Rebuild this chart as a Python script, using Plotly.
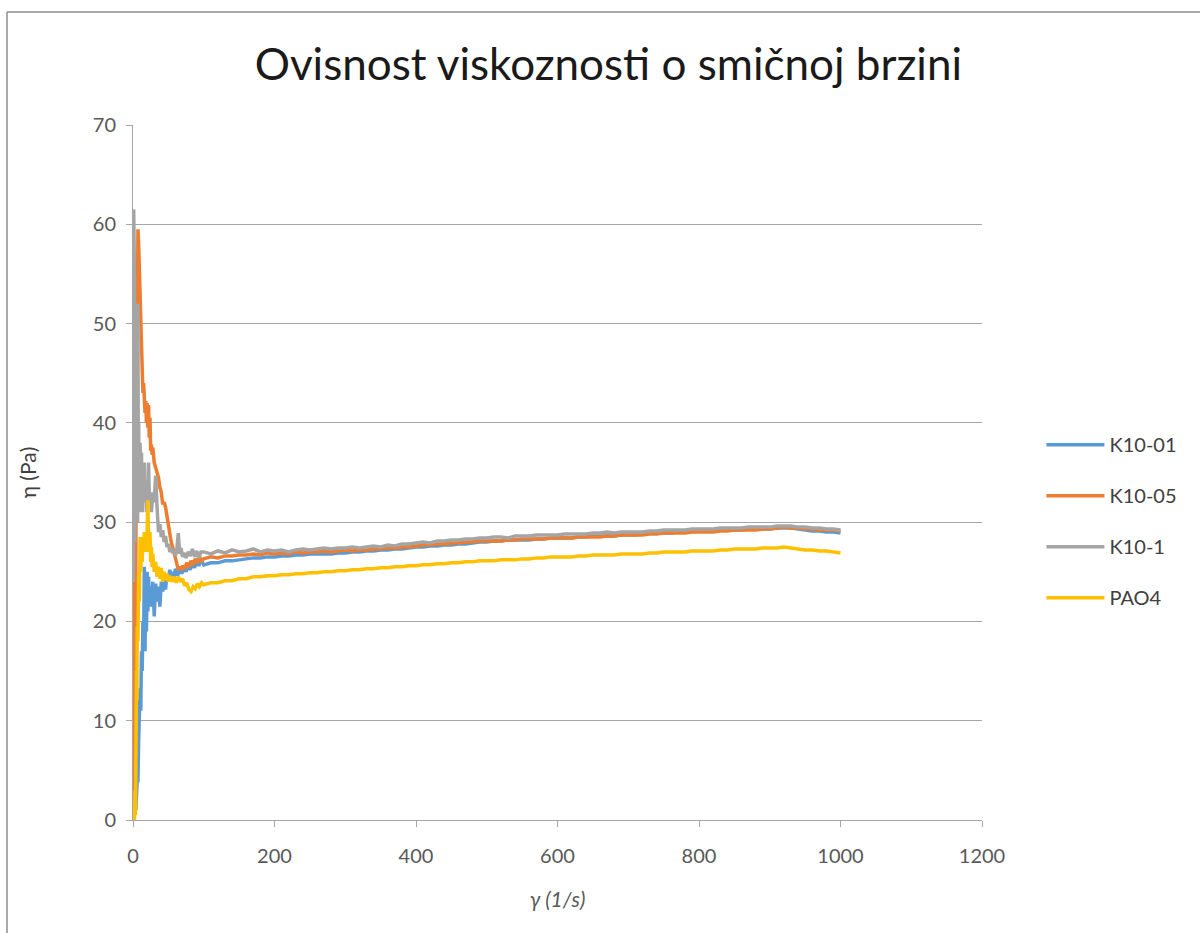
import plotly.graph_objects as go

# Shear rate axis: dense start-up samples, then a regular 10 1/s grid
tail_rate = list(range(100, 1001, 10))

# K10-01
k1_rate_start = [4, 6, 7, 8, 9, 10, 11, 12, 13, 14, 15, 16, 17, 18, 19, 20, 21, 22, 23, 24,
                 26, 28, 30, 32, 34, 36, 38, 40, 42, 44, 46, 48, 50, 52, 54, 56, 58, 60,
                 63, 66, 69, 72, 75, 78, 81, 84, 87, 90, 93, 96]
k1_eta_start = [1.0, 4.0, 3.8, 8.0, 12.0, 13.3, 11.0, 17.0, 15.0, 20.0, 18.0, 25.5, 17.0, 24.0,
                19.0, 25.0, 21.0, 24.5, 22.0, 23.5, 21.5, 24.0, 20.5, 23.8, 22.0, 23.5, 21.5,
                24.0, 23.0, 24.5, 23.2, 24.8, 24.0, 25.2, 24.3, 25.0, 24.5, 25.3, 24.6, 25.4,
                24.8, 25.6, 25.0, 25.8, 25.2, 26.0, 25.4, 26.1, 25.6, 26.2]
k1_eta_tail = [25.7, 25.9, 25.9, 26.1, 26.1, 26.2, 26.3, 26.4, 26.4, 26.5,
               26.5, 26.6, 26.6, 26.7, 26.7, 26.8, 26.8, 26.8, 26.8, 26.9,
               26.9, 27.0, 27.0, 27.1, 27.1, 27.2, 27.2, 27.3, 27.3, 27.4,
               27.5, 27.5, 27.6, 27.6, 27.7, 27.7, 27.8, 27.8, 27.9, 28.0,
               28.0, 28.1, 28.1, 28.2, 28.2, 28.2, 28.2, 28.3, 28.3, 28.4,
               28.4, 28.4, 28.4, 28.5, 28.5, 28.6, 28.6, 28.6, 28.6, 28.7,
               28.7, 28.7, 28.8, 28.9, 28.9, 28.9, 28.9, 29.0, 29.0, 29.1,
               29.1, 29.1, 29.1, 29.2, 29.2, 29.2, 29.2, 29.3, 29.3, 29.3,
               29.3, 29.4, 29.4, 29.4, 29.3, 29.2, 29.1, 29.1, 29.0, 29.0,
               28.9]

# K10-05
k5_rate_start = [0, 0.7, 1.4, 2.1, 2.8, 3.5, 4.2, 5, 6, 7, 8, 9, 10, 11, 12, 13, 14, 15, 16,
                 17, 18, 19, 20, 21, 22, 23, 24, 25, 26, 27, 28, 30, 32, 34, 36, 38, 40, 42,
                 44, 46, 48, 50, 52, 54, 56, 58, 60, 62, 64, 66, 68, 70, 73, 76, 79, 82, 85,
                 88, 91, 94, 97]
k5_eta_start = [0.0, 2.0, 24.0, 10.0, 20.0, 5.0, 30.0, 45.0, 52.0, 59.5, 58.0, 55.0, 53.0,
                49.5, 47.0, 45.0, 43.0, 44.0, 42.5, 41.0, 42.2, 40.0, 42.0, 39.5, 41.8, 38.5,
                40.5, 37.2, 37.8, 36.8, 37.5, 36.0, 35.5, 35.0, 34.5, 33.5, 33.0, 31.8, 32.0,
                31.5, 30.5, 30.0, 29.0, 28.0, 27.5, 26.8, 26.2, 25.8, 25.2, 25.5, 25.2, 25.6,
                25.3, 25.9, 25.5, 26.1, 25.7, 26.3, 25.9, 26.5, 26.1]
k5_eta_tail = [26.3, 26.5, 26.4, 26.6, 26.6, 26.7, 26.7, 26.8, 26.7, 26.9,
               26.8, 26.9, 26.8, 27.0, 26.9, 27.0, 27.0, 27.1, 27.0, 27.1,
               27.2, 27.1, 27.2, 27.2, 27.3, 27.3, 27.4, 27.4, 27.5, 27.5,
               27.6, 27.7, 27.7, 27.8, 27.8, 27.9, 27.9, 28.0, 28.0, 28.1,
               28.1, 28.1, 28.1, 28.2, 28.2, 28.3, 28.3, 28.3, 28.3, 28.4,
               28.4, 28.4, 28.4, 28.5, 28.5, 28.5, 28.5, 28.6, 28.6, 28.7,
               28.7, 28.7, 28.7, 28.8, 28.8, 28.9, 28.9, 28.9, 28.9, 29.0,
               29.0, 29.0, 29.0, 29.1, 29.1, 29.2, 29.2, 29.2, 29.2, 29.3,
               29.3, 29.4, 29.5, 29.4, 29.4, 29.3, 29.3, 29.2, 29.2, 29.2,
               29.1]

# K10-1
k10_rate_start = [0.5, 1.0, 1.5, 2.0, 2.5, 3.0, 3.5, 4.0, 4.5, 5.0, 5.5, 6.0, 6.5, 7.0, 7.5,
                  8, 9, 10, 11, 12, 13, 14, 15, 16, 17, 18, 19, 20, 21, 22, 23, 24, 26, 28,
                  30, 32, 34, 36, 38, 40, 42, 44, 46, 48, 50, 52, 54, 56, 58, 60, 62, 64, 66,
                  68, 70, 72, 75, 78, 81, 84, 87, 90, 93, 96]
k10_eta_start = [24.0, 61.5, 35.0, 55.0, 28.0, 52.0, 30.0, 48.0, 33.0, 50.0, 36.0, 45.0, 30.0,
                 52.0, 34.0, 40.0, 31.0, 38.0, 33.0, 37.0, 31.0, 35.0, 33.0, 36.0, 32.0, 34.0,
                 31.0, 33.0, 32.0, 36.0, 32.5, 33.0, 31.0, 33.0, 32.0, 34.7, 31.5, 29.0, 29.8,
                 28.5, 29.2, 28.0, 28.6, 27.5, 27.8, 27.0, 27.4, 26.9, 27.2, 26.6, 27.3, 28.9,
                 26.8, 27.4, 26.5, 26.9, 26.4, 27.0, 26.6, 27.3, 26.5, 27.1, 26.4, 27.0]
k10_eta_tail = [27.0, 26.8, 27.1, 26.9, 27.2, 27.0, 27.1, 27.3, 27.0, 27.2,
                27.1, 27.2, 27.0, 27.2, 27.3, 27.2, 27.3, 27.4, 27.3, 27.4,
                27.4, 27.5, 27.4, 27.5, 27.6, 27.5, 27.7, 27.6, 27.8, 27.8,
                27.9, 28.0, 27.9, 28.1, 28.1, 28.2, 28.2, 28.3, 28.3, 28.4,
                28.4, 28.5, 28.5, 28.4, 28.6, 28.6, 28.6, 28.7, 28.7, 28.7,
                28.7, 28.8, 28.8, 28.8, 28.8, 28.9, 28.9, 29.0, 28.9, 29.0,
                29.0, 29.0, 29.0, 29.1, 29.1, 29.2, 29.2, 29.2, 29.2, 29.3,
                29.3, 29.3, 29.3, 29.4, 29.4, 29.4, 29.4, 29.5, 29.5, 29.5,
                29.5, 29.6, 29.6, 29.6, 29.5, 29.5, 29.4, 29.4, 29.3, 29.3,
                29.2]

# PAO4
pao_rate_start = [2, 3, 3.5, 4, 4.5, 5, 5.5, 6, 7, 8, 9, 10, 11, 12, 13, 14, 15, 16, 17, 18,
                  19, 20, 21, 22, 23, 24, 25, 26, 27, 28, 30, 32, 34, 36, 38, 40, 42, 44, 46,
                  48, 50, 52, 55, 58, 61, 64, 67, 70, 73, 76, 79, 82, 85, 88, 91, 94, 97]
pao_eta_start = [0.0, 3.0, 0.5, 10.0, 6.0, 15.0, 12.0, 19.5, 18.0, 25.0, 22.0, 28.5, 25.0,
                 28.0, 26.0, 28.5, 27.0, 29.0, 27.5, 28.8, 27.0, 29.5, 32.2, 28.0, 27.0, 29.0,
                 26.0, 27.5, 25.5, 26.8, 25.0, 26.0, 24.5, 25.5, 24.3, 25.4, 24.0, 25.0, 24.2,
                 24.8, 24.0, 24.6, 24.0, 24.5, 23.9, 24.5, 24.0, 24.3, 23.6, 23.9, 23.2, 23.0,
                 23.5, 23.3, 23.8, 23.5, 23.9]
pao_eta_tail = [23.7, 23.9, 23.9, 24.1, 24.1, 24.3, 24.3, 24.5, 24.5, 24.6,
                24.6, 24.7, 24.7, 24.8, 24.8, 24.9, 24.9, 25.0, 25.0, 25.1,
                25.1, 25.2, 25.2, 25.3, 25.3, 25.4, 25.4, 25.5, 25.5, 25.6,
                25.6, 25.7, 25.7, 25.8, 25.8, 25.9, 25.9, 26.0, 26.0, 26.1,
                26.1, 26.1, 26.2, 26.2, 26.2, 26.3, 26.3, 26.4, 26.4, 26.5,
                26.5, 26.5, 26.5, 26.6, 26.6, 26.7, 26.7, 26.7, 26.7, 26.8,
                26.8, 26.8, 26.8, 26.9, 26.9, 27.0, 27.0, 27.0, 27.0, 27.1,
                27.1, 27.1, 27.1, 27.2, 27.2, 27.3, 27.3, 27.3, 27.3, 27.4,
                27.4, 27.4, 27.5, 27.4, 27.3, 27.2, 27.2, 27.1, 27.1, 27.0,
                26.9]

series = [
    ("K10-01", k1_rate_start, k1_eta_start, k1_eta_tail, "#5B9BD5"),
    ("K10-05", k5_rate_start, k5_eta_start, k5_eta_tail, "#ED7D31"),
    ("K10-1", k10_rate_start, k10_eta_start, k10_eta_tail, "#A5A5A5"),
    ("PAO4", pao_rate_start, pao_eta_start, pao_eta_tail, "#FFC000"),
]

FONT = "Lato, 'Open Sans', sans-serif"
AXIS_GREY = "#A6A6A6"

fig = go.Figure()
for i, (name, rs, es, et, color) in enumerate(series):
    fig.add_trace(go.Scatter(
        x=rs + tail_rate, y=es + et, name=name, mode="lines",
        line=dict(color=color, width=3.5), legendgroup=f"g{i}",
    ))

fig.update_layout(
    width=1200, height=933,
    margin=dict(l=133, r=218, t=125, b=113),
    paper_bgcolor="white", plot_bgcolor="white",
    font=dict(family=FONT, color="#595959", size=20),
    title=dict(text="Ovisnost viskoznosti o smičnoj brzini",
               x=0.507, xref="container", xanchor="center",
               y=1 - 65 / 933, yref="container", yanchor="middle",
               font=dict(family=FONT, size=44, color="#1a1a1a")),
    showlegend=True,
    legend=dict(x=1.07, xanchor="left", y=0.43, yanchor="middle",
                font=dict(family=FONT, size=20, color="#404040"),
                itemwidth=58, tracegroupgap=22, bgcolor="rgba(0,0,0,0)"),
    xaxis=dict(range=[0, 1200], dtick=200, tick0=0, showgrid=False,
               showline=True, linecolor=AXIS_GREY, linewidth=1,
               ticks="outside", ticklen=6, tickcolor=AXIS_GREY,
               ticklabelstandoff=12, zeroline=False,
               title=dict(text="<i>γ (1/s)</i>", standoff=26,
                          font=dict(size=21, color="#595959"))),
    yaxis=dict(range=[0, 70], dtick=10, tick0=0, showgrid=True,
               gridcolor=AXIS_GREY, gridwidth=1,
               showline=True, linecolor=AXIS_GREY, linewidth=1,
               ticks="outside", ticklen=6, tickcolor=AXIS_GREY,
               ticklabelstandoff=6, zeroline=False,
               title=dict(text="η (Pa)", standoff=50,
                          font=dict(size=21, color="#404040"))),
    shapes=[
        dict(type="line", xref="paper", yref="paper",
             x0=(7 - 133) / 849, x1=1.3, y0=(820 - 12) / 695, y1=(820 - 12) / 695,
             line=dict(color="#8C8C8C", width=1.5)),
        dict(type="line", xref="paper", yref="paper",
             x0=(7 - 133) / 849, x1=(7 - 133) / 849, y0=(820 - 12) / 695, y1=-0.3,
             line=dict(color="#8C8C8C", width=1.5)),
    ],
)

fig.write_html("out.html")
